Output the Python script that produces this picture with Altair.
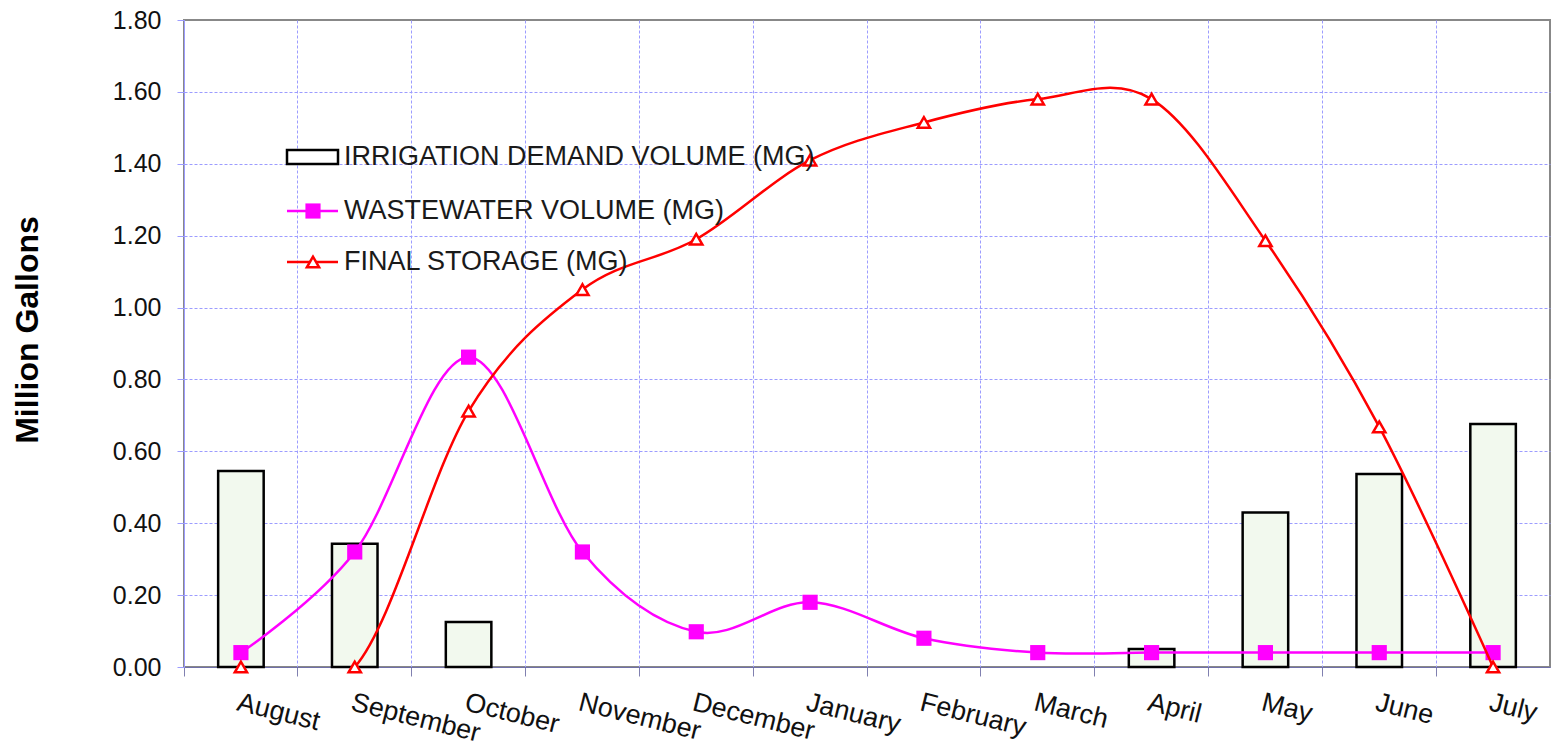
import altair as alt
import pandas as pd

months = ["August", "September", "October", "November", "December", "January",
          "February", "March", "April", "May", "June", "July"]
irrigation = [0.545, 0.343, 0.125, 0.0, 0.0, 0.0, 0.0, 0.0, 0.05, 0.43, 0.537, 0.676]
wastewater = [0.04, 0.32, 0.862, 0.32, 0.098, 0.18, 0.08, 0.04, 0.04, 0.04, 0.04, 0.04]
storage = [0.0, 0.0, 0.712, 1.05, 1.19, 1.41, 1.515, 1.58, 1.58, 1.186, 0.668, 0.0]
y_ticks = [0.0, 0.2, 0.4, 0.6, 0.8, 1.0, 1.2, 1.4, 1.6, 1.8]
legend_labels = ["IRRIGATION DEMAND VOLUME (MG)", "WASTEWATER VOLUME (MG)", "FINAL STORAGE (MG)"]

df = pd.DataFrame({"month": months, "irrigation": irrigation,
                   "wastewater": wastewater, "storage": storage})

FONT = "Liberation Sans"
W, H = 1366, 647

x_axis = alt.Axis(title=None, bandPosition=0, labelAngle=14,
                  labelAlign="left", labelBaseline="top", labelPadding=13,
                  labelFontSize=27, labelColor="#111", labelFont=FONT,
                  tickSize=9, tickColor="#8080b0", domainColor="#7070a8",
                  grid=True, gridColor="#9c9cff", gridDash=[3, 2], gridWidth=1)
x_enc = alt.X("month:N", sort=months, axis=x_axis,
              scale=alt.Scale(paddingInner=0, paddingOuter=0))
y_axis = alt.Axis(title="Million Gallons", values=y_ticks, format=".2f",
                  labelFontSize=25, labelColor="#111", labelFont=FONT, labelPadding=16,
                  tickSize=7, tickColor="#9c9cff", domainColor="#9c9cff",
                  grid=True, gridColor="#9c9cff", gridDash=[3, 2], gridWidth=1,
                  gridOpacity={"condition": {"test": "datum.value >= 1.8", "value": 0}, "value": 1},
                  titleFont=FONT, titleFontSize=32, titleFontWeight="bold", titleColor="#000",
                  titleX=-147, titleY=H / 2 - 14, titleBaseline="alphabetic", titleAngle=-90)
y_scale = alt.Scale(domain=[0, 1.8], nice=False)

base = alt.Chart(df)

bars = base.transform_filter("datum.irrigation > 0").mark_bar(
    fill="#f2f9ee", stroke="#000", strokeWidth=2.5, width={"band": 0.4}
).encode(x=x_enc, y=alt.Y("irrigation:Q", scale=y_scale, axis=y_axis))

ww_line = base.mark_line(color="#ff00ff", strokeWidth=2.5, interpolate="cardinal", clip=True).encode(
    x=x_enc, y=alt.Y("wastewater:Q", scale=y_scale, axis=y_axis))
ww_pts = base.mark_point(shape="square", filled=True, color="#ff00ff", size=230, opacity=1).encode(
    x=x_enc, y=alt.Y("wastewater:Q", scale=y_scale, axis=y_axis))

st_line = base.mark_line(color="#ff0000", strokeWidth=2.5, interpolate="cardinal", clip=True).encode(
    x=x_enc, y=alt.Y("storage:Q", scale=y_scale, axis=y_axis))
st_pts = base.mark_point(shape="triangle-up", fill="white", stroke="#ff0000", strokeWidth=2.5,
                         size=150, opacity=1, filled=False).encode(
    x=x_enc, y=alt.Y("storage:Q", scale=y_scale, axis=y_axis))

# legend drawn inside the plot
leg_df = [pd.DataFrame({"label": [l]}) for l in legend_labels]
lx0, lx1, lsym, ltext = 103, 154, 129, 160
ly = [137, 191, 242]

leg_rect = alt.Chart(leg_df[0]).mark_rect(fill="white", stroke="#000", strokeWidth=2.5).encode(
    x=alt.value(lx0), x2=alt.value(lx1), y=alt.value(ly[0] - 7), y2=alt.value(ly[0] + 7))
leg_ww_rule = alt.Chart(leg_df[1]).mark_rule(color="#ff00ff", strokeWidth=2.5).encode(
    x=alt.value(lx0), x2=alt.value(lx1), y=alt.value(ly[1]))
leg_ww_pt = alt.Chart(leg_df[1]).mark_point(shape="square", filled=True, color="#ff00ff",
                                            size=230, opacity=1).encode(
    x=alt.value(lsym), y=alt.value(ly[1]))
leg_st_rule = alt.Chart(leg_df[2]).mark_rule(color="#ff0000", strokeWidth=2.5).encode(
    x=alt.value(lx0), x2=alt.value(lx1), y=alt.value(ly[2]))
leg_st_pt = alt.Chart(leg_df[2]).mark_point(shape="triangle-up", fill="white", stroke="#ff0000",
                                            strokeWidth=2.5, size=150, opacity=1,
                                            filled=False).encode(
    x=alt.value(lsym), y=alt.value(ly[2]))
leg_texts = [alt.Chart(leg_df[i]).mark_text(align="left", baseline="middle", font=FONT,
                                            fontSize=27, color="#1a1a1a").encode(
    x=alt.value(ltext), y=alt.value(ly[i]), text="label:N") for i in range(3)]

chart = alt.layer(
    bars, ww_line, ww_pts, st_line, st_pts,
    leg_rect, leg_ww_rule, leg_ww_pt, leg_st_rule, leg_st_pt, *leg_texts
).properties(
    width=W, height=H,
    autosize=alt.AutoSizeParams(type="none"),
    padding={"left": 184, "top": 20, "right": 6, "bottom": 82},
    background="white",
).configure_view(stroke="#888888", strokeWidth=2)

chart.save("out.html", embed_options={"renderer": "svg", "actions": False})
